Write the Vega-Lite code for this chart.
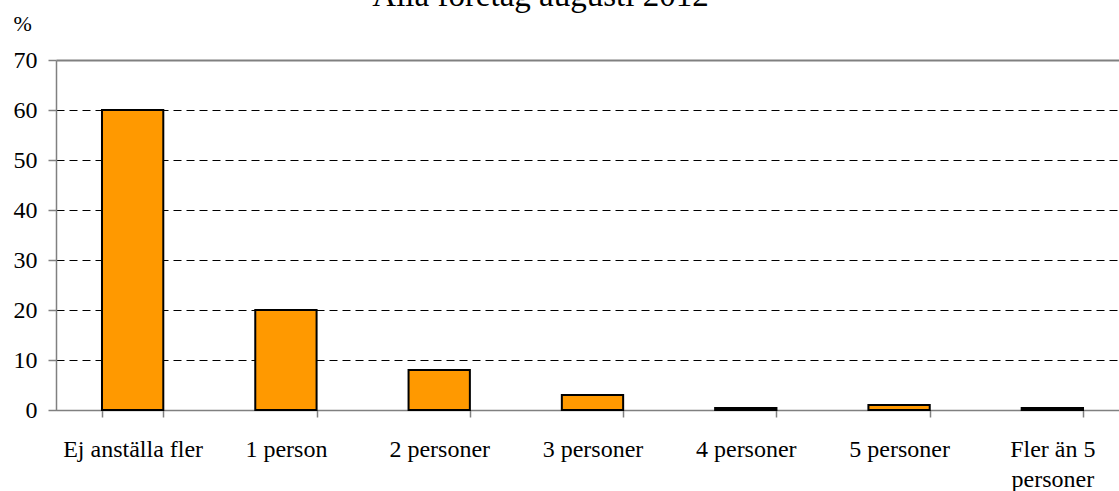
{
  "$schema": "https://vega.github.io/schema/vega-lite/v6.json",
  "autosize": {"type": "none"},
  "padding": {"left": 56, "top": 60, "right": 0, "bottom": 81},
  "width": 1073,
  "height": 350,
  "background": "white",
  "title": {
    "text": "Alla företag augusti 2012",
    "font": "Liberation Serif",
    "fontSize": 33,
    "fontWeight": "normal",
    "color": "black",
    "frame": "group",
    "anchor": "middle",
    "dx": -52,
    "baseline": "alphabetic",
    "offset": 0,
    "dy": 27
  },
  "data": {
    "values": [
      {"kategori": "Ej anställa fler", "procent": 60},
      {"kategori": "1 person", "procent": 20},
      {"kategori": "2 personer", "procent": 8},
      {"kategori": "3 personer", "procent": 3},
      {"kategori": "4 personer", "procent": 0.4},
      {"kategori": "5 personer", "procent": 1},
      {"kategori": "Fler än 5 personer", "procent": 0.4}
    ]
  },
  "mark": {"type": "bar", "color": "#FF9900", "stroke": "black", "strokeWidth": 2},
  "encoding": {
    "x": {
      "field": "kategori",
      "type": "nominal",
      "sort": null,
      "scale": {"paddingInner": 0.6, "paddingOuter": 0.3},
      "axis": {
        "title": null,
        "labelAngle": 0,
        "labelFont": "Liberation Serif",
        "labelFontSize": 24,
        "labelColor": "black",
        "labelPadding": 20,
        "labelLineHeight": 30,
        "labelExpr": "datum.value == 'Fler än 5 personer' ? ['Fler än 5', 'personer'] : datum.value",
        "tickBand": "extent",
        "tickSize": 7,
        "tickColor": "#808080",
        "tickWidth": 1.5,
        "domainColor": "#808080",
        "domainWidth": 1.5,
        "grid": false
      }
    },
    "y": {
      "field": "procent",
      "type": "quantitative",
      "scale": {"domain": [0, 70], "nice": false},
      "axis": {
        "values": [0, 10, 20, 30, 40, 50, 60, 70],
        "title": "%",
        "titleAngle": 0,
        "titleAlign": "left",
        "titleBaseline": "alphabetic",
        "titleX": -43,
        "titleY": -30,
        "titleFont": "Liberation Serif",
        "titleFontSize": 22,
        "titleFontWeight": "normal",
        "titleColor": "black",
        "labelFont": "Liberation Serif",
        "labelFontSize": 24,
        "labelColor": "black",
        "labelPadding": 11,
        "tickSize": 8,
        "tickColor": "#808080",
        "tickWidth": 1.5,
        "domainColor": "#808080",
        "domainWidth": 1.5,
        "grid": true,
        "gridColor": {"condition": {"test": "datum.value === 70", "value": "#808080"}, "value": "black"},
        "gridDash": {"condition": {"test": "datum.value === 70", "value": []}, "value": [8, 5]},
        "gridWidth": {"condition": {"test": "datum.value === 70", "value": 2}, "value": 1}
      }
    }
  },
  "config": {"view": {"stroke": null}}
}
